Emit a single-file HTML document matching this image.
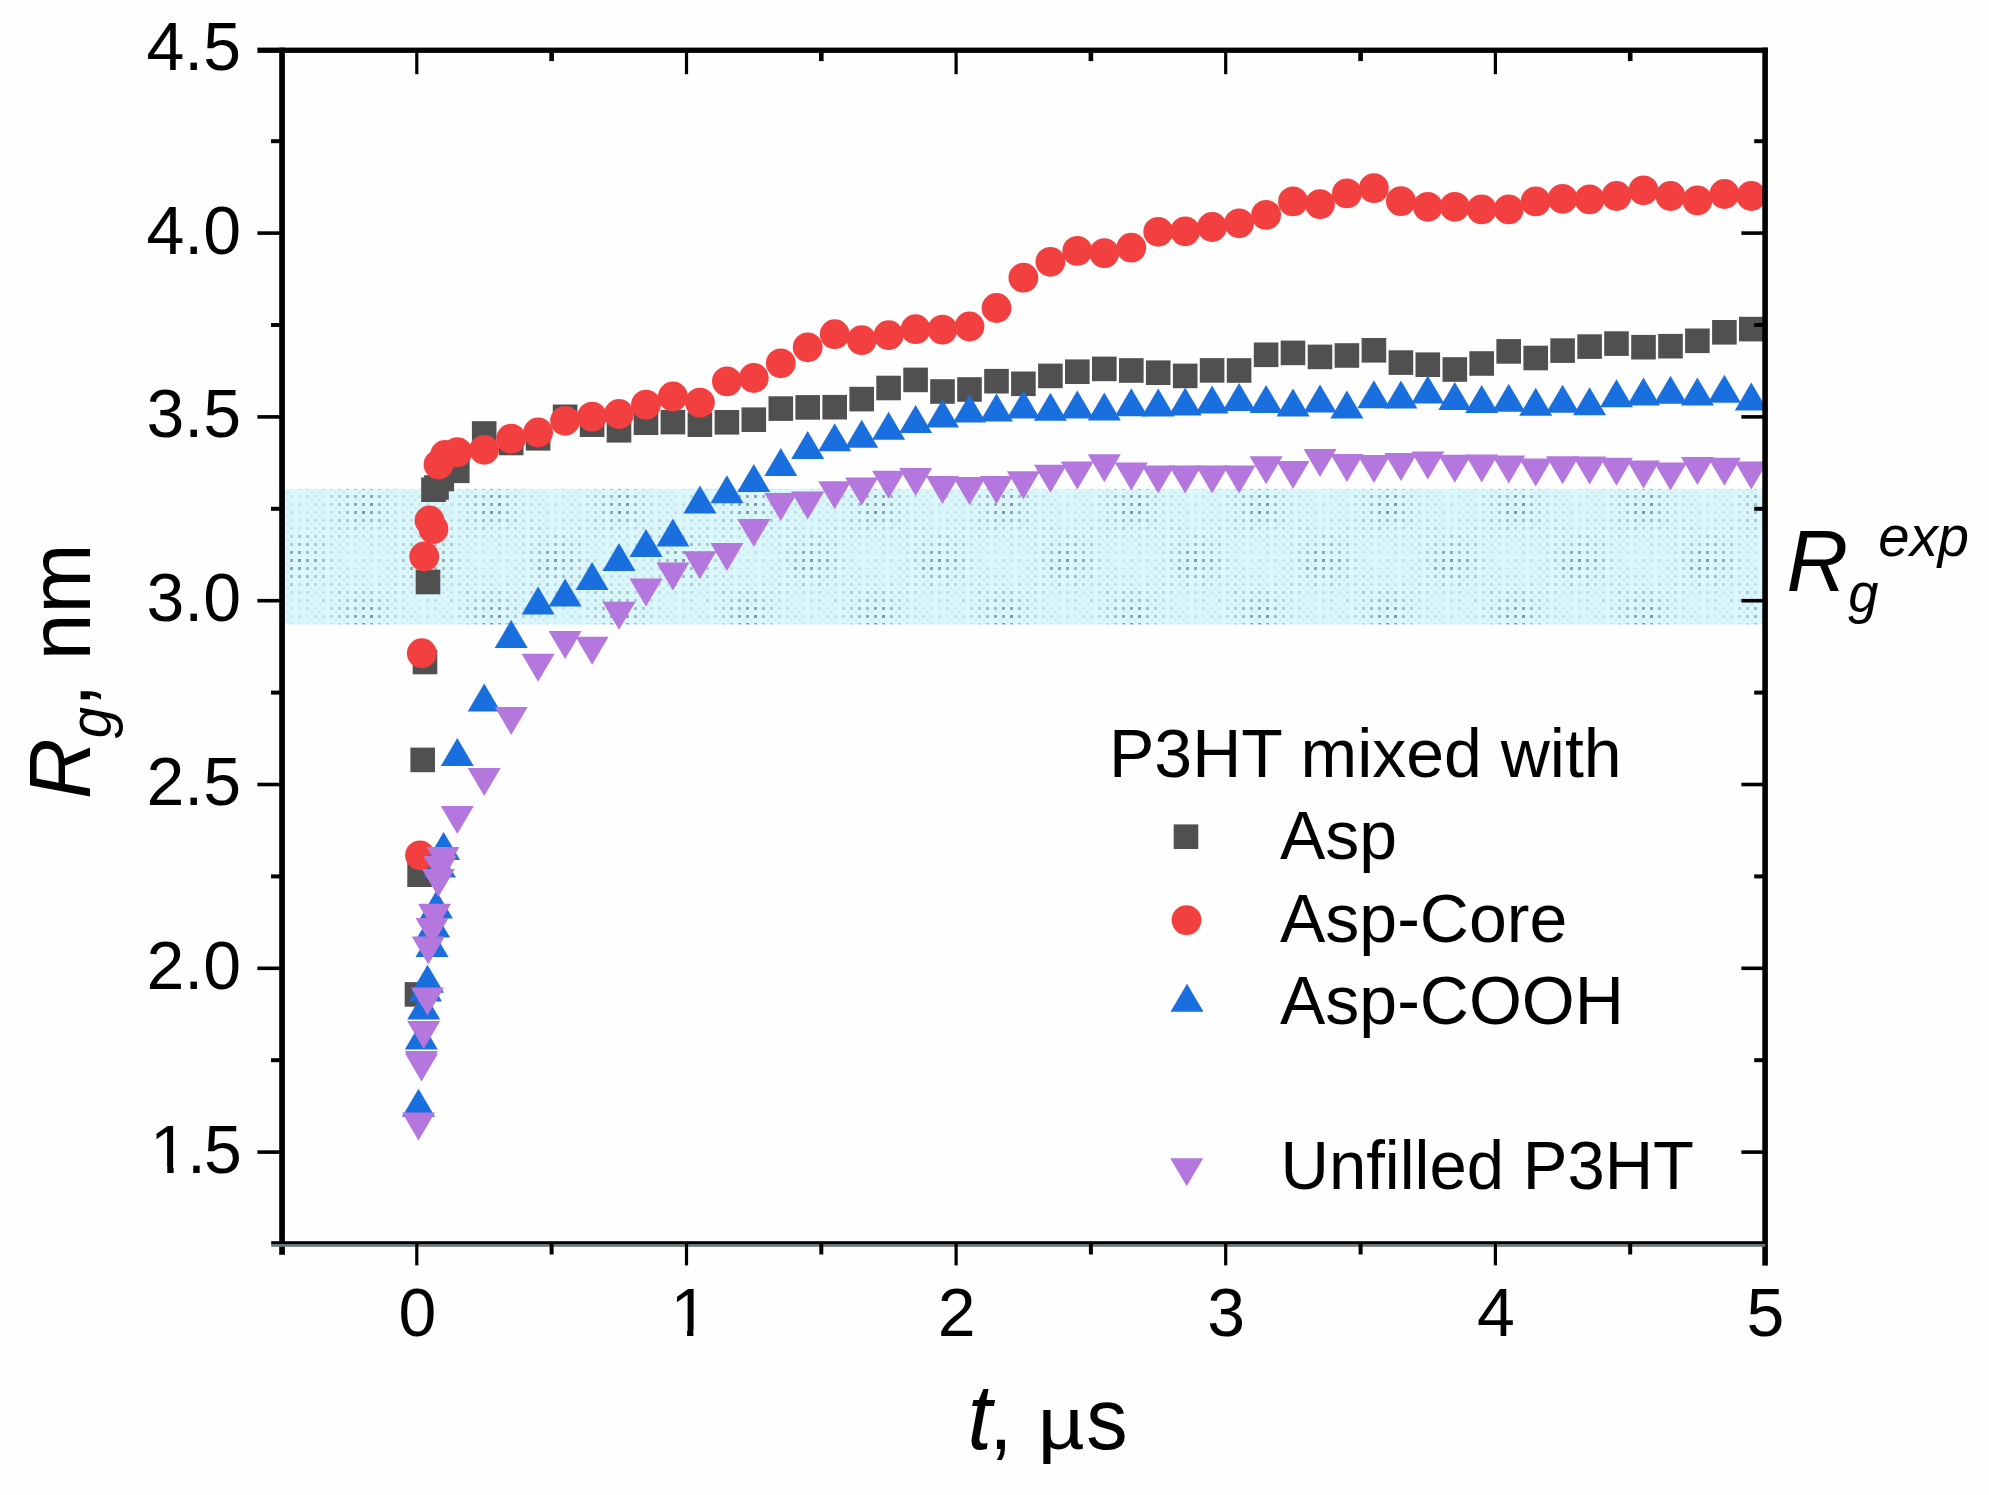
<!DOCTYPE html>
<html lang="en">
<head>
<meta charset="utf-8">
<title>Rg vs t</title>
<style>
html,body{margin:0;padding:0;background:#fefefe;}
body{width:1989px;height:1495px;overflow:hidden;}
svg{display:block;}
text{font-family:"Liberation Sans",Arial,Helvetica,sans-serif;fill:#000;}
.tk{font-size:68px;}
.ax{font-size:88px;}
.lg{font-size:68px;}
.it{font-style:italic;}
</style>
</head>
<body>
<svg width="1989" height="1495" viewBox="0 0 1989 1495">
<defs>
<pattern id="dots" x="295" y="444" width="128" height="112" patternUnits="userSpaceOnUse"><path d="M51 3h3v3h-3zM59 11h3v3h-3zM75 11h3v3h-3zM83 11h3v3h-3zM19 43h3v3h-3zM115 43h3v3h-3zM123 43h3v3h-3zM19 51h3v3h-3zM27 51h3v3h-3zM115 51h3v3h-3zM11 59h3v3h-3zM67 99h3v3h-3zM67 107h3v3h-3zM83 107h3v3h-3z" fill="#56686f" opacity="0.06"/><path d="M59 3h3v3h-3zM75 3h3v3h-3zM91 3h3v3h-3zM43 11h3v3h-3zM67 11h3v3h-3zM75 19h3v3h-3zM83 19h3v3h-3zM91 19h3v3h-3zM75 27h3v3h-3zM91 27h3v3h-3zM19 35h3v3h-3zM27 35h3v3h-3zM115 35h3v3h-3zM107 43h3v3h-3zM3 51h3v3h-3zM123 51h3v3h-3zM123 59h3v3h-3zM3 67h3v3h-3zM11 67h3v3h-3zM19 67h3v3h-3zM27 67h3v3h-3zM107 67h3v3h-3zM3 75h3v3h-3zM123 75h3v3h-3zM3 83h3v3h-3zM43 99h3v3h-3zM51 99h3v3h-3zM59 99h3v3h-3zM91 99h3v3h-3zM43 107h3v3h-3zM51 107h3v3h-3zM59 107h3v3h-3zM91 107h3v3h-3z" fill="#56686f" opacity="0.11"/><path d="M43 3h3v3h-3zM67 3h3v3h-3zM83 3h3v3h-3zM99 3h3v3h-3zM51 11h3v3h-3zM91 11h3v3h-3zM99 11h3v3h-3zM35 19h3v3h-3zM51 19h3v3h-3zM59 19h3v3h-3zM67 19h3v3h-3zM99 19h3v3h-3zM3 27h3v3h-3zM27 27h3v3h-3zM43 27h3v3h-3zM51 27h3v3h-3zM59 27h3v3h-3zM67 27h3v3h-3zM115 27h3v3h-3zM3 35h3v3h-3zM11 35h3v3h-3zM35 35h3v3h-3zM123 35h3v3h-3zM3 43h3v3h-3zM11 43h3v3h-3zM35 43h3v3h-3zM99 43h3v3h-3zM11 51h3v3h-3zM99 51h3v3h-3zM107 51h3v3h-3zM3 59h3v3h-3zM19 59h3v3h-3zM27 59h3v3h-3zM107 59h3v3h-3zM115 59h3v3h-3zM35 67h3v3h-3zM99 67h3v3h-3zM115 67h3v3h-3zM123 67h3v3h-3zM11 75h3v3h-3zM19 75h3v3h-3zM27 75h3v3h-3zM99 75h3v3h-3zM115 75h3v3h-3zM11 83h3v3h-3zM19 83h3v3h-3zM35 83h3v3h-3zM99 83h3v3h-3zM123 83h3v3h-3zM35 91h3v3h-3zM59 91h3v3h-3zM67 91h3v3h-3zM75 91h3v3h-3zM83 91h3v3h-3zM91 91h3v3h-3zM35 99h3v3h-3zM75 99h3v3h-3zM83 99h3v3h-3zM99 99h3v3h-3zM35 107h3v3h-3zM75 107h3v3h-3zM99 107h3v3h-3z" fill="#56686f" opacity="0.17"/><path d="M35 3h3v3h-3zM35 11h3v3h-3zM107 11h3v3h-3zM43 19h3v3h-3zM107 19h3v3h-3zM19 27h3v3h-3zM35 27h3v3h-3zM83 27h3v3h-3zM99 27h3v3h-3zM107 27h3v3h-3zM51 35h3v3h-3zM83 35h3v3h-3zM91 35h3v3h-3zM99 35h3v3h-3zM107 35h3v3h-3zM27 43h3v3h-3zM43 43h3v3h-3zM91 43h3v3h-3zM35 51h3v3h-3zM35 59h3v3h-3zM99 59h3v3h-3zM43 67h3v3h-3zM35 75h3v3h-3zM107 75h3v3h-3zM27 83h3v3h-3zM43 83h3v3h-3zM51 83h3v3h-3zM67 83h3v3h-3zM75 83h3v3h-3zM83 83h3v3h-3zM91 83h3v3h-3zM107 83h3v3h-3zM115 83h3v3h-3zM19 91h3v3h-3zM27 91h3v3h-3zM43 91h3v3h-3zM51 91h3v3h-3zM99 91h3v3h-3zM107 91h3v3h-3zM115 91h3v3h-3zM123 91h3v3h-3zM107 99h3v3h-3zM27 107h3v3h-3z" fill="#56686f" opacity="0.24"/><path d="M107 3h3v3h-3zM27 11h3v3h-3zM19 19h3v3h-3zM27 19h3v3h-3zM115 19h3v3h-3zM11 27h3v3h-3zM123 27h3v3h-3zM43 35h3v3h-3zM59 35h3v3h-3zM67 35h3v3h-3zM75 35h3v3h-3zM51 43h3v3h-3zM83 43h3v3h-3zM43 51h3v3h-3zM91 51h3v3h-3zM43 59h3v3h-3zM91 59h3v3h-3zM91 67h3v3h-3zM43 75h3v3h-3zM51 75h3v3h-3zM91 75h3v3h-3zM59 83h3v3h-3zM3 91h3v3h-3zM11 91h3v3h-3zM19 99h3v3h-3zM27 99h3v3h-3zM115 99h3v3h-3zM123 99h3v3h-3zM107 107h3v3h-3z" fill="#56686f" opacity="0.32"/><path d="M27 3h3v3h-3zM115 3h3v3h-3zM11 11h3v3h-3zM19 11h3v3h-3zM3 19h3v3h-3zM11 19h3v3h-3zM123 19h3v3h-3zM59 43h3v3h-3zM67 43h3v3h-3zM75 43h3v3h-3zM51 51h3v3h-3zM59 51h3v3h-3zM83 51h3v3h-3zM51 59h3v3h-3zM83 59h3v3h-3zM51 67h3v3h-3zM83 67h3v3h-3zM59 75h3v3h-3zM67 75h3v3h-3zM75 75h3v3h-3zM83 75h3v3h-3zM3 99h3v3h-3zM11 99h3v3h-3zM11 107h3v3h-3zM19 107h3v3h-3zM115 107h3v3h-3z" fill="#56686f" opacity="0.42"/><path d="M11 3h3v3h-3zM19 3h3v3h-3zM123 3h3v3h-3zM3 11h3v3h-3zM115 11h3v3h-3zM123 11h3v3h-3zM67 51h3v3h-3zM75 51h3v3h-3zM59 59h3v3h-3zM67 59h3v3h-3zM59 67h3v3h-3zM75 67h3v3h-3zM3 107h3v3h-3zM123 107h3v3h-3z" fill="#56686f" opacity="0.54"/><path d="M3 3h3v3h-3zM75 59h3v3h-3zM67 67h3v3h-3z" fill="#56686f" opacity="0.66"/><path d="M15 7h3v3h-3zM23 7h3v3h-3zM39 7h3v3h-3zM47 7h3v3h-3zM63 7h3v3h-3zM71 7h3v3h-3zM87 7h3v3h-3zM95 7h3v3h-3zM111 7h3v3h-3zM119 7h3v3h-3zM15 15h3v3h-3zM23 15h3v3h-3zM39 15h3v3h-3zM47 15h3v3h-3zM63 15h3v3h-3zM71 15h3v3h-3zM87 15h3v3h-3zM95 15h3v3h-3zM111 15h3v3h-3zM119 15h3v3h-3zM15 23h3v3h-3zM23 23h3v3h-3zM39 23h3v3h-3zM47 23h3v3h-3zM63 23h3v3h-3zM71 23h3v3h-3zM87 23h3v3h-3zM95 23h3v3h-3zM111 23h3v3h-3zM119 23h3v3h-3zM15 31h3v3h-3zM23 31h3v3h-3zM39 31h3v3h-3zM47 31h3v3h-3zM63 31h3v3h-3zM71 31h3v3h-3zM87 31h3v3h-3zM95 31h3v3h-3zM111 31h3v3h-3zM119 31h3v3h-3zM15 39h3v3h-3zM23 39h3v3h-3zM39 39h3v3h-3zM47 39h3v3h-3zM63 39h3v3h-3zM71 39h3v3h-3zM87 39h3v3h-3zM95 39h3v3h-3zM111 39h3v3h-3zM119 39h3v3h-3zM15 47h3v3h-3zM23 47h3v3h-3zM39 47h3v3h-3zM47 47h3v3h-3zM63 47h3v3h-3zM71 47h3v3h-3zM87 47h3v3h-3zM95 47h3v3h-3zM111 47h3v3h-3zM119 47h3v3h-3zM15 55h3v3h-3zM23 55h3v3h-3zM39 55h3v3h-3zM47 55h3v3h-3zM63 55h3v3h-3zM71 55h3v3h-3zM87 55h3v3h-3zM95 55h3v3h-3zM111 55h3v3h-3zM119 55h3v3h-3zM15 63h3v3h-3zM23 63h3v3h-3zM39 63h3v3h-3zM47 63h3v3h-3zM63 63h3v3h-3zM71 63h3v3h-3zM87 63h3v3h-3zM95 63h3v3h-3zM111 63h3v3h-3zM119 63h3v3h-3zM15 71h3v3h-3zM23 71h3v3h-3zM39 71h3v3h-3zM47 71h3v3h-3zM63 71h3v3h-3zM71 71h3v3h-3zM87 71h3v3h-3zM95 71h3v3h-3zM111 71h3v3h-3zM119 71h3v3h-3zM15 79h3v3h-3zM23 79h3v3h-3zM39 79h3v3h-3zM47 79h3v3h-3zM63 79h3v3h-3zM71 79h3v3h-3zM87 79h3v3h-3zM95 79h3v3h-3zM111 79h3v3h-3zM119 79h3v3h-3zM15 87h3v3h-3zM23 87h3v3h-3zM39 87h3v3h-3zM47 87h3v3h-3zM63 87h3v3h-3zM71 87h3v3h-3zM87 87h3v3h-3zM95 87h3v3h-3zM111 87h3v3h-3zM119 87h3v3h-3zM15 95h3v3h-3zM23 95h3v3h-3zM39 95h3v3h-3zM47 95h3v3h-3zM63 95h3v3h-3zM71 95h3v3h-3zM87 95h3v3h-3zM95 95h3v3h-3zM111 95h3v3h-3zM119 95h3v3h-3zM15 103h3v3h-3zM23 103h3v3h-3zM39 103h3v3h-3zM47 103h3v3h-3zM63 103h3v3h-3zM71 103h3v3h-3zM87 103h3v3h-3zM95 103h3v3h-3zM111 103h3v3h-3zM119 103h3v3h-3zM15 111h3v3h-3zM23 111h3v3h-3zM39 111h3v3h-3zM47 111h3v3h-3zM63 111h3v3h-3zM71 111h3v3h-3zM87 111h3v3h-3zM95 111h3v3h-3zM111 111h3v3h-3zM119 111h3v3h-3z" fill="#9ea6cf" opacity="0.15"/></pattern>
<clipPath id="plot"><rect x="284" y="52" width="1481" height="1192"/></clipPath>
</defs>
<rect x="0" y="0" width="1989" height="1495" fill="#fefefe"/>
<g id="band"><rect x="284.5" y="488.9" width="1478.5" height="135.6" fill="#daf7fb"/><rect x="284.5" y="488.9" width="1478.5" height="135.6" fill="url(#dots)"/></g>
<g id="series" clip-path="url(#plot)">
<g id="asp" fill="#505050">
<rect x="404.7" y="982.1" width="24.6" height="24.6"/><rect x="407.3" y="862.4" width="24.6" height="24.6"/><rect x="410.4" y="747.6" width="24.6" height="24.6"/><rect x="412.7" y="649.7" width="24.6" height="24.6"/><rect x="415.7" y="569.7" width="24.6" height="24.6"/><rect x="421.2" y="477.4" width="24.6" height="24.6"/><rect x="424.2" y="475.2" width="24.6" height="24.6"/><rect x="429.5" y="466.7" width="24.6" height="24.6"/><rect x="445.0" y="458.5" width="24.6" height="24.6"/><rect x="471.9" y="421.2" width="24.6" height="24.6"/><rect x="498.9" y="430.7" width="24.6" height="24.6"/><rect x="525.8" y="426.0" width="24.6" height="24.6"/><rect x="552.8" y="404.5" width="24.6" height="24.6"/><rect x="579.8" y="412.4" width="24.6" height="24.6"/><rect x="606.7" y="418.0" width="24.6" height="24.6"/><rect x="633.7" y="410.4" width="24.6" height="24.6"/><rect x="660.6" y="409.8" width="24.6" height="24.6"/><rect x="687.6" y="412.4" width="24.6" height="24.6"/><rect x="714.6" y="410.0" width="24.6" height="24.6"/><rect x="741.5" y="407.4" width="24.6" height="24.6"/><rect x="768.5" y="396.3" width="24.6" height="24.6"/><rect x="795.4" y="395.1" width="24.6" height="24.6"/><rect x="822.4" y="394.9" width="24.6" height="24.6"/><rect x="849.4" y="386.8" width="24.6" height="24.6"/><rect x="876.3" y="375.7" width="24.6" height="24.6"/><rect x="903.3" y="367.6" width="24.6" height="24.6"/><rect x="930.2" y="379.2" width="24.6" height="24.6"/><rect x="957.2" y="377.2" width="24.6" height="24.6"/><rect x="984.2" y="368.9" width="24.6" height="24.6"/><rect x="1011.1" y="371.5" width="24.6" height="24.6"/><rect x="1038.1" y="363.6" width="24.6" height="24.6"/><rect x="1065.0" y="359.4" width="24.6" height="24.6"/><rect x="1092.0" y="356.6" width="24.6" height="24.6"/><rect x="1119.0" y="358.2" width="24.6" height="24.6"/><rect x="1145.9" y="360.4" width="24.6" height="24.6"/><rect x="1172.9" y="363.6" width="24.6" height="24.6"/><rect x="1199.8" y="358.1" width="24.6" height="24.6"/><rect x="1226.8" y="358.2" width="24.6" height="24.6"/><rect x="1253.8" y="342.5" width="24.6" height="24.6"/><rect x="1280.7" y="340.6" width="24.6" height="24.6"/><rect x="1307.7" y="344.6" width="24.6" height="24.6"/><rect x="1334.6" y="343.2" width="24.6" height="24.6"/><rect x="1361.6" y="338.0" width="24.6" height="24.6"/><rect x="1388.6" y="350.3" width="24.6" height="24.6"/><rect x="1415.5" y="352.4" width="24.6" height="24.6"/><rect x="1442.5" y="357.2" width="24.6" height="24.6"/><rect x="1469.4" y="351.2" width="24.6" height="24.6"/><rect x="1496.4" y="339.1" width="24.6" height="24.6"/><rect x="1523.4" y="345.7" width="24.6" height="24.6"/><rect x="1550.3" y="338.3" width="24.6" height="24.6"/><rect x="1577.3" y="334.3" width="24.6" height="24.6"/><rect x="1604.2" y="331.3" width="24.6" height="24.6"/><rect x="1631.2" y="334.9" width="24.6" height="24.6"/><rect x="1658.2" y="333.9" width="24.6" height="24.6"/><rect x="1685.1" y="328.5" width="24.6" height="24.6"/><rect x="1712.1" y="320.0" width="24.6" height="24.6"/><rect x="1739.0" y="316.8" width="24.6" height="24.6"/>
</g>
<g id="asp-core" fill="#f24040">
<circle cx="420.0" cy="855.3" r="14.9"/><circle cx="421.8" cy="653.2" r="14.9"/><circle cx="424.2" cy="556.5" r="14.9"/><circle cx="429.5" cy="520.5" r="14.9"/><circle cx="433.5" cy="529.0" r="14.9"/><circle cx="438.5" cy="464.5" r="14.9"/><circle cx="445.0" cy="455.0" r="14.9"/><circle cx="457.3" cy="452.1" r="14.9"/><circle cx="484.2" cy="449.8" r="14.9"/><circle cx="511.2" cy="438.6" r="14.9"/><circle cx="538.1" cy="432.5" r="14.9"/><circle cx="565.1" cy="420.8" r="14.9"/><circle cx="592.1" cy="416.6" r="14.9"/><circle cx="619.0" cy="414.0" r="14.9"/><circle cx="646.0" cy="404.6" r="14.9"/><circle cx="672.9" cy="396.5" r="14.9"/><circle cx="699.9" cy="402.6" r="14.9"/><circle cx="726.9" cy="381.4" r="14.9"/><circle cx="753.8" cy="378.0" r="14.9"/><circle cx="780.8" cy="363.3" r="14.9"/><circle cx="807.7" cy="347.3" r="14.9"/><circle cx="834.7" cy="334.2" r="14.9"/><circle cx="861.7" cy="340.2" r="14.9"/><circle cx="888.6" cy="335.2" r="14.9"/><circle cx="915.6" cy="329.2" r="14.9"/><circle cx="942.5" cy="329.6" r="14.9"/><circle cx="969.5" cy="326.5" r="14.9"/><circle cx="996.5" cy="308.0" r="14.9"/><circle cx="1023.4" cy="277.7" r="14.9"/><circle cx="1050.4" cy="261.8" r="14.9"/><circle cx="1077.3" cy="250.9" r="14.9"/><circle cx="1104.3" cy="253.1" r="14.9"/><circle cx="1131.3" cy="247.7" r="14.9"/><circle cx="1158.2" cy="231.8" r="14.9"/><circle cx="1185.2" cy="231.3" r="14.9"/><circle cx="1212.1" cy="227.0" r="14.9"/><circle cx="1239.1" cy="223.3" r="14.9"/><circle cx="1266.1" cy="214.9" r="14.9"/><circle cx="1293.0" cy="201.4" r="14.9"/><circle cx="1320.0" cy="204.1" r="14.9"/><circle cx="1346.9" cy="193.4" r="14.9"/><circle cx="1373.9" cy="188.1" r="14.9"/><circle cx="1400.9" cy="201.1" r="14.9"/><circle cx="1427.8" cy="206.8" r="14.9"/><circle cx="1454.8" cy="206.8" r="14.9"/><circle cx="1481.7" cy="209.4" r="14.9"/><circle cx="1508.7" cy="209.4" r="14.9"/><circle cx="1535.7" cy="201.4" r="14.9"/><circle cx="1562.6" cy="198.8" r="14.9"/><circle cx="1589.6" cy="199.4" r="14.9"/><circle cx="1616.5" cy="196.0" r="14.9"/><circle cx="1643.5" cy="190.3" r="14.9"/><circle cx="1670.5" cy="196.0" r="14.9"/><circle cx="1697.4" cy="200.4" r="14.9"/><circle cx="1724.4" cy="194.0" r="14.9"/><circle cx="1751.3" cy="196.0" r="14.9"/>
</g>
<g id="asp-cooh" fill="#1a6fdf">
<polygon points="418.5,1088.8 402.0,1116.8 435.0,1116.8"/><polygon points="421.3,1021.6 404.8,1049.6 437.8,1049.6"/><polygon points="423.7,991.6 407.2,1019.6 440.2,1019.6"/><polygon points="425.5,973.5 409.0,1001.5 442.0,1001.5"/><polygon points="427.5,964.8 411.0,992.8 444.0,992.8"/><polygon points="432.0,929.0 415.5,957.0 448.5,957.0"/><polygon points="433.6,909.5 417.1,937.5 450.1,937.5"/><polygon points="436.4,890.5 419.9,918.5 452.9,918.5"/><polygon points="439.5,849.5 423.0,877.5 456.0,877.5"/><polygon points="443.6,832.0 427.1,860.0 460.1,860.0"/><polygon points="457.3,738.1 440.8,766.1 473.8,766.1"/><polygon points="484.2,683.6 467.7,711.6 500.7,711.6"/><polygon points="511.2,619.9 494.7,647.9 527.7,647.9"/><polygon points="538.1,586.4 521.6,614.4 554.6,614.4"/><polygon points="565.1,578.4 548.6,606.4 581.6,606.4"/><polygon points="592.1,562.1 575.6,590.1 608.6,590.1"/><polygon points="619.0,543.1 602.5,571.1 635.5,571.1"/><polygon points="646.0,529.0 629.5,557.0 662.5,557.0"/><polygon points="672.9,518.6 656.4,546.6 689.4,546.6"/><polygon points="699.9,485.5 683.4,513.5 716.4,513.5"/><polygon points="726.9,475.2 710.4,503.2 743.4,503.2"/><polygon points="753.8,464.0 737.3,492.0 770.3,492.0"/><polygon points="780.8,448.1 764.3,476.1 797.3,476.1"/><polygon points="807.7,431.0 791.2,459.0 824.2,459.0"/><polygon points="834.7,423.2 818.2,451.2 851.2,451.2"/><polygon points="861.7,419.7 845.2,447.7 878.2,447.7"/><polygon points="888.6,411.7 872.1,439.7 905.1,439.7"/><polygon points="915.6,404.9 899.1,432.9 932.1,432.9"/><polygon points="942.5,399.4 926.0,427.4 959.0,427.4"/><polygon points="969.5,394.6 953.0,422.6 986.0,422.6"/><polygon points="996.5,393.4 980.0,421.4 1013.0,421.4"/><polygon points="1023.4,390.4 1006.9,418.4 1039.9,418.4"/><polygon points="1050.4,392.7 1033.9,420.7 1066.9,420.7"/><polygon points="1077.3,390.4 1060.8,418.4 1093.8,418.4"/><polygon points="1104.3,392.4 1087.8,420.4 1120.8,420.4"/><polygon points="1131.3,388.2 1114.8,416.2 1147.8,416.2"/><polygon points="1158.2,388.4 1141.7,416.4 1174.7,416.4"/><polygon points="1185.2,387.4 1168.7,415.4 1201.7,415.4"/><polygon points="1212.1,385.4 1195.6,413.4 1228.6,413.4"/><polygon points="1239.1,383.1 1222.6,411.1 1255.6,411.1"/><polygon points="1266.1,384.9 1249.6,412.9 1282.6,412.9"/><polygon points="1293.0,388.4 1276.5,416.4 1309.5,416.4"/><polygon points="1320.0,384.4 1303.5,412.4 1336.5,412.4"/><polygon points="1346.9,390.4 1330.4,418.4 1363.4,418.4"/><polygon points="1373.9,380.2 1357.4,408.2 1390.4,408.2"/><polygon points="1400.9,380.4 1384.4,408.4 1417.4,408.4"/><polygon points="1427.8,375.5 1411.3,403.5 1444.3,403.5"/><polygon points="1454.8,382.0 1438.3,410.0 1471.3,410.0"/><polygon points="1481.7,385.1 1465.2,413.1 1498.2,413.1"/><polygon points="1508.7,383.8 1492.2,411.8 1525.2,411.8"/><polygon points="1535.7,387.8 1519.2,415.8 1552.2,415.8"/><polygon points="1562.6,384.8 1546.1,412.8 1579.1,412.8"/><polygon points="1589.6,387.2 1573.1,415.2 1606.1,415.2"/><polygon points="1616.5,379.2 1600.0,407.2 1633.0,407.2"/><polygon points="1643.5,377.5 1627.0,405.5 1660.0,405.5"/><polygon points="1670.5,375.8 1654.0,403.8 1687.0,403.8"/><polygon points="1697.4,377.4 1680.9,405.4 1713.9,405.4"/><polygon points="1724.4,374.8 1707.9,402.8 1740.9,402.8"/><polygon points="1751.3,382.4 1734.8,410.4 1767.8,410.4"/>
</g>
<g id="unfilled" fill="#b377de">
<polygon points="402.0,1112.5 435.0,1112.5 418.5,1140.5"/><polygon points="404.8,1051.0 437.8,1051.0 421.3,1079.0"/><polygon points="405.0,1053.5 438.0,1053.5 421.5,1081.5"/><polygon points="407.2,1021.0 440.2,1021.0 423.7,1049.0"/><polygon points="411.0,987.5 444.0,987.5 427.5,1015.5"/><polygon points="411.8,936.5 444.8,936.5 428.3,964.5"/><polygon points="415.5,918.0 448.5,918.0 432.0,946.0"/><polygon points="418.1,903.7 451.1,903.7 434.6,931.7"/><polygon points="421.9,869.0 454.9,869.0 438.4,897.0"/><polygon points="423.7,856.0 456.7,856.0 440.2,884.0"/><polygon points="426.5,847.0 459.5,847.0 443.0,875.0"/><polygon points="440.8,805.9 473.8,805.9 457.3,833.9"/><polygon points="467.7,768.0 500.7,768.0 484.2,796.0"/><polygon points="494.7,706.9 527.7,706.9 511.2,734.9"/><polygon points="521.6,653.7 554.6,653.7 538.1,681.7"/><polygon points="548.6,631.0 581.6,631.0 565.1,659.0"/><polygon points="575.6,636.7 608.6,636.7 592.1,664.7"/><polygon points="602.5,601.7 635.5,601.7 619.0,629.7"/><polygon points="629.5,578.4 662.5,578.4 646.0,606.4"/><polygon points="656.4,562.5 689.4,562.5 672.9,590.5"/><polygon points="683.4,551.3 716.4,551.3 699.9,579.3"/><polygon points="710.4,543.0 743.4,543.0 726.9,571.0"/><polygon points="737.3,518.9 770.3,518.9 753.8,546.9"/><polygon points="764.3,492.9 797.3,492.9 780.8,520.9"/><polygon points="791.2,491.6 824.2,491.6 807.7,519.6"/><polygon points="818.2,481.3 851.2,481.3 834.7,509.3"/><polygon points="845.2,477.5 878.2,477.5 861.7,505.5"/><polygon points="872.1,470.8 905.1,470.8 888.6,498.8"/><polygon points="899.1,468.0 932.1,468.0 915.6,496.0"/><polygon points="926.0,476.0 959.0,476.0 942.5,504.0"/><polygon points="953.0,477.0 986.0,477.0 969.5,505.0"/><polygon points="980.0,476.0 1013.0,476.0 996.5,504.0"/><polygon points="1006.9,471.2 1039.9,471.2 1023.4,499.2"/><polygon points="1033.9,464.8 1066.9,464.8 1050.4,492.8"/><polygon points="1060.8,461.4 1093.8,461.4 1077.3,489.4"/><polygon points="1087.8,454.3 1120.8,454.3 1104.3,482.3"/><polygon points="1114.8,462.6 1147.8,462.6 1131.3,490.6"/><polygon points="1141.7,465.6 1174.7,465.6 1158.2,493.6"/><polygon points="1168.7,465.6 1201.7,465.6 1185.2,493.6"/><polygon points="1195.6,465.6 1228.6,465.6 1212.1,493.6"/><polygon points="1222.6,465.6 1255.6,465.6 1239.1,493.6"/><polygon points="1249.6,456.3 1282.6,456.3 1266.1,484.3"/><polygon points="1276.5,461.0 1309.5,461.0 1293.0,489.0"/><polygon points="1303.5,448.9 1336.5,448.9 1320.0,476.9"/><polygon points="1330.4,454.1 1363.4,454.1 1346.9,482.1"/><polygon points="1357.4,455.1 1390.4,455.1 1373.9,483.1"/><polygon points="1384.4,452.9 1417.4,452.9 1400.9,480.9"/><polygon points="1411.3,451.5 1444.3,451.5 1427.8,479.5"/><polygon points="1438.3,454.7 1471.3,454.7 1454.8,482.7"/><polygon points="1465.2,454.5 1498.2,454.5 1481.7,482.5"/><polygon points="1492.2,455.4 1525.2,455.4 1508.7,483.4"/><polygon points="1519.2,458.5 1552.2,458.5 1535.7,486.5"/><polygon points="1546.1,456.3 1579.1,456.3 1562.6,484.3"/><polygon points="1573.1,456.6 1606.1,456.6 1589.6,484.6"/><polygon points="1600.0,457.8 1633.0,457.8 1616.5,485.8"/><polygon points="1627.0,460.5 1660.0,460.5 1643.5,488.5"/><polygon points="1654.0,462.4 1687.0,462.4 1670.5,490.4"/><polygon points="1680.9,457.1 1713.9,457.1 1697.4,485.1"/><polygon points="1707.9,457.8 1740.9,457.8 1724.4,485.8"/><polygon points="1734.8,461.4 1767.8,461.4 1751.3,489.4"/>
</g>
</g>
<g id="axes" fill="#000">
<rect x="279.2" y="47.6" width="5.7" height="1207.2"/>
<rect x="1762.3" y="47.6" width="5.6" height="1218"/>
<rect x="257.4" y="47.6" width="1510.5" height="5.3"/>
<rect x="271.2" y="1241.2" width="1494" height="2.8"/>
<rect x="271.2" y="1244.0" width="1494" height="2.8" fill="#6c7676"/>
<rect x="257.4" y="231.3" width="24" height="3.6"/><rect x="1741.4" y="231.3" width="24" height="3.6"/><rect x="257.4" y="415.1" width="24" height="3.6"/><rect x="1741.4" y="415.1" width="24" height="3.6"/><rect x="257.4" y="598.9" width="24" height="3.6"/><rect x="1741.4" y="598.9" width="24" height="3.6"/><rect x="257.4" y="782.7" width="24" height="3.6"/><rect x="1741.4" y="782.7" width="24" height="3.6"/><rect x="257.4" y="966.5" width="24" height="3.6"/><rect x="1741.4" y="966.5" width="24" height="3.6"/><rect x="257.4" y="1150.3" width="24" height="3.6"/><rect x="1741.4" y="1150.3" width="24" height="3.6"/>
<rect x="271" y="139.2" width="10" height="4"/><rect x="1754.2" y="139.2" width="10" height="4"/><rect x="271" y="323.0" width="10" height="4"/><rect x="1754.2" y="323.0" width="10" height="4"/><rect x="271" y="506.8" width="10" height="4"/><rect x="1754.2" y="506.8" width="10" height="4"/><rect x="271" y="690.6" width="10" height="4"/><rect x="1754.2" y="690.6" width="10" height="4"/><rect x="271" y="874.4" width="10" height="4"/><rect x="1754.2" y="874.4" width="10" height="4"/><rect x="271" y="1058.2" width="10" height="4"/><rect x="1754.2" y="1058.2" width="10" height="4"/>
<rect x="415.2" y="50" width="3.2" height="24.2"/><rect x="415.2" y="1244" width="3.2" height="21.4"/><rect x="684.9" y="50" width="3.2" height="24.2"/><rect x="684.9" y="1244" width="3.2" height="21.4"/><rect x="954.5" y="50" width="3.2" height="24.2"/><rect x="954.5" y="1244" width="3.2" height="21.4"/><rect x="1224.1" y="50" width="3.2" height="24.2"/><rect x="1224.1" y="1244" width="3.2" height="21.4"/><rect x="1493.8" y="50" width="3.2" height="24.2"/><rect x="1493.8" y="1244" width="3.2" height="21.4"/><rect x="549.3" y="50" width="4.6" height="11.1"/><rect x="549.6" y="1244" width="4" height="10.5"/><rect x="819.0" y="50" width="4.6" height="11.1"/><rect x="819.3" y="1244" width="4" height="10.5"/><rect x="1088.6" y="50" width="4.6" height="11.1"/><rect x="1088.9" y="1244" width="4" height="10.5"/><rect x="1358.3" y="50" width="4.6" height="11.1"/><rect x="1358.6" y="1244" width="4" height="10.5"/><rect x="1627.9" y="50" width="4.6" height="11.1"/><rect x="1628.2" y="1244" width="4" height="10.5"/>
</g>
<g id="ylabels" class="tk" text-anchor="end">
<text class="tk" x="241" y="69.8">4.5</text><text class="tk" x="241" y="253.6">4.0</text><text class="tk" x="241" y="437.4">3.5</text><text class="tk" x="241" y="621.2">3.0</text><text class="tk" x="241" y="805.0">2.5</text><text class="tk" x="241" y="988.8">2.0</text><text class="tk" text-anchor="start" x="150 187 204" y="1172.6">1.5</text><rect x="154" y="1166.6" width="13.3" height="7.6" fill="#fefefe"/><rect x="173.6" y="1166.6" width="11.6" height="7.6" fill="#fefefe"/>
</g>
<g id="xlabels" text-anchor="middle">
<text class="tk" x="417.3" y="1335.5">0</text><text class="tk" x="689.5" y="1335.5">1</text><rect x="674" y="1329.8" width="13.1" height="7.6" fill="#fefefe"/><rect x="693.4" y="1329.8" width="12.6" height="7.6" fill="#fefefe"/><text class="tk" x="956.6" y="1335.5">2</text><text class="tk" x="1226.2" y="1335.5">3</text><text class="tk" x="1495.9" y="1335.5">4</text><text class="tk" x="1765.5" y="1335.5">5</text>
</g>
<g id="titles">
<text class="ax" transform="translate(90.1,799) rotate(-90) scale(0.955,1)"><tspan class="it">R</tspan><tspan class="it" font-size="59" dy="21">g</tspan><tspan dy="-21">, nm</tspan></text>
<text class="ax" transform="translate(967.5,1449) scale(0.95,1)"><tspan class="it" font-size="93">t</tspan><tspan dx="-3">, </tspan></text><text class="ax" transform="translate(1037.8,1449) scale(0.925,0.84)">µ</text><text class="ax" transform="translate(1086.3,1449) scale(0.94,1)">s</text>
<text class="ax it" transform="translate(1786.5,591.4) scale(0.97,1)">R<tspan font-size="56" dy="21">g</tspan><tspan font-size="58" dy="-56.6">exp</tspan></text>
</g>
<g id="legend">
<text class="lg" x="1109" y="776.5">P3HT mixed with</text>
<rect x="1173.7" y="824.4" width="24.6" height="24.6" fill="#505050"/>
<text class="lg" x="1280" y="859.3">Asp</text>
<circle cx="1186.5" cy="920.1" r="14.9" fill="#f24040"/>
<text class="lg" x="1280" y="941.7">Asp-Core</text>
<polygon points="1187.0,983.8 1170.5,1011.8 1203.5,1011.8" fill="#1a6fdf"/>
<text class="lg" x="1280" y="1024.1">Asp-COOH</text>
<polygon points="1170.2,1158.2 1203.2,1158.2 1186.7,1186.2" fill="#b377de"/>
<text class="lg" transform="translate(1280.5,1189.1) scale(0.986,1)">Unfilled P3HT</text>
</g>
</svg>
</body>
</html>
